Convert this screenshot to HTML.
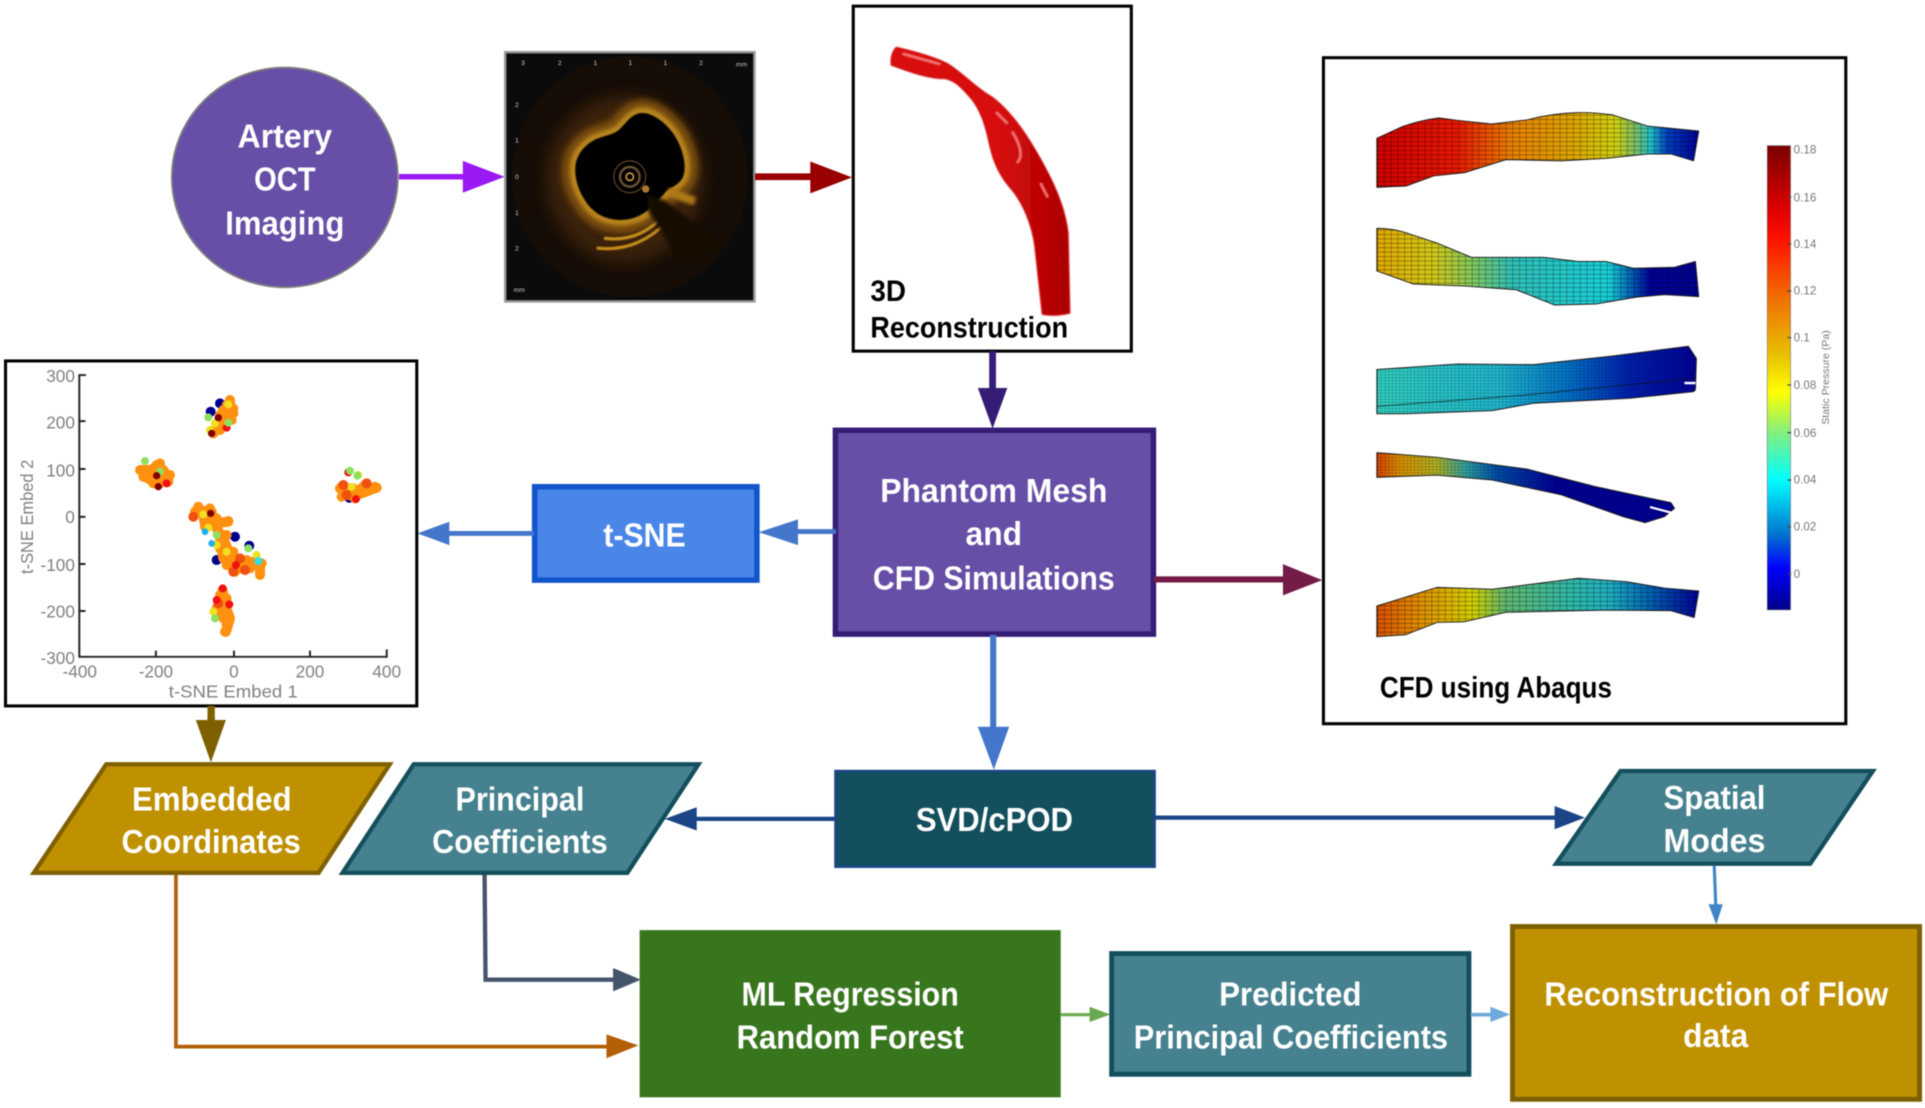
<!DOCTYPE html>
<html><head><meta charset="utf-8"><style>
html,body{margin:0;padding:0;background:#fff}
svg{display:block;filter:blur(.45px)}
text{font-family:"Liberation Sans",Arial,sans-serif}
.w{fill:#fff;font-weight:bold;font-size:27px;text-anchor:middle}
.k{fill:#000;font-weight:bold;font-size:24px}
.g{fill:#808080;font-size:14px}
.c{fill:#777;font-size:9.5px}
.o{fill:#ccc;font-size:5.5px;text-anchor:middle}
</style></head><body>
<svg width="1925" height="1108" viewBox="0 0 1568 902.5" preserveAspectRatio="none" xmlns="http://www.w3.org/2000/svg">
<defs>
<filter id="b1" x="-20%" y="-20%" width="140%" height="140%"><feGaussianBlur stdDeviation="0.5"/></filter>
<filter id="b2" x="-50%" y="-50%" width="200%" height="200%"><feGaussianBlur stdDeviation="1.5"/></filter>
<filter id="b3" x="-50%" y="-50%" width="200%" height="200%"><feGaussianBlur stdDeviation="2.5"/></filter>
<filter id="b4" x="-50%" y="-50%" width="200%" height="200%"><feGaussianBlur stdDeviation="6"/></filter>
<clipPath id="octc"><rect x="412.5" y="43.5" width="201" height="201"/></clipPath>
<pattern id="grid" patternUnits="userSpaceOnUse" width="5.5" height="3.6">
<path d="M0 0H5.5M0 0V3.6" stroke="#000" stroke-width=".7" stroke-opacity=".62" fill="none"/>
</pattern>
<pattern id="gridf" patternUnits="userSpaceOnUse" width="3" height="2.5">
<path d="M0 0H3M0 0V2.5" stroke="#000" stroke-width=".5" stroke-opacity=".5" fill="none"/>
</pattern>
<linearGradient id="g1" gradientUnits="userSpaceOnUse" x1="1121" y1="0" x2="1384" y2="0">
<stop offset="0" stop-color="#d00000"/><stop offset=".25" stop-color="#e81800"/><stop offset=".42" stop-color="#e88000"/><stop offset=".62" stop-color="#dca800"/><stop offset=".74" stop-color="#d0d010"/><stop offset=".8" stop-color="#80c060"/><stop offset=".85" stop-color="#20c0c8"/><stop offset=".9" stop-color="#0040c0"/><stop offset="1" stop-color="#000098"/>
</linearGradient>
<linearGradient id="g2" gradientUnits="userSpaceOnUse" x1="1121" y1="0" x2="1384" y2="0">
<stop offset="0" stop-color="#e0a800"/><stop offset=".18" stop-color="#d0c818"/><stop offset=".3" stop-color="#80c860"/><stop offset=".42" stop-color="#30c0b8"/><stop offset=".72" stop-color="#18d0d8"/><stop offset=".8" stop-color="#0050b0"/><stop offset=".85" stop-color="#000098"/><stop offset="1" stop-color="#000090"/>
</linearGradient>
<linearGradient id="g3" gradientUnits="userSpaceOnUse" x1="1121" y1="0" x2="1384" y2="0">
<stop offset="0" stop-color="#30d0c0"/><stop offset=".38" stop-color="#20b8d0"/><stop offset=".6" stop-color="#0070c8"/><stop offset=".78" stop-color="#0020b0"/><stop offset="1" stop-color="#000098"/>
</linearGradient>
<linearGradient id="g4" gradientUnits="userSpaceOnUse" x1="1121" y1="0" x2="1364" y2="0">
<stop offset="0" stop-color="#d84000"/><stop offset=".08" stop-color="#d89000"/><stop offset=".2" stop-color="#b0b020"/><stop offset=".3" stop-color="#30a0a0"/><stop offset=".4" stop-color="#0050a8"/><stop offset=".6" stop-color="#000098"/><stop offset="1" stop-color="#000098"/>
</linearGradient>
<linearGradient id="g5" gradientUnits="userSpaceOnUse" x1="1121" y1="0" x2="1384" y2="0">
<stop offset="0" stop-color="#d85000"/><stop offset=".12" stop-color="#e08800"/><stop offset=".24" stop-color="#d8b800"/><stop offset=".3" stop-color="#d0d000"/><stop offset=".4" stop-color="#60b870"/><stop offset=".6" stop-color="#30b8a8"/><stop offset=".72" stop-color="#20b0c0"/><stop offset=".85" stop-color="#0060b0"/><stop offset="1" stop-color="#000098"/>
</linearGradient>
<linearGradient id="cb" x1="0" y1="0" x2="0" y2="1">
<stop offset="0" stop-color="#7a0000"/><stop offset=".14" stop-color="#e00000"/><stop offset=".2" stop-color="#ff1000"/><stop offset=".33" stop-color="#f07000"/><stop offset=".45" stop-color="#e8c000"/><stop offset=".53" stop-color="#ffff00"/><stop offset=".62" stop-color="#80f080"/><stop offset=".72" stop-color="#00ffff"/><stop offset=".84" stop-color="#0070d0"/><stop offset=".91" stop-color="#0000ff"/><stop offset="1" stop-color="#000088"/>
</linearGradient>
<linearGradient id="art" x1="0" y1="0" x2="1" y2="0">
<stop offset="0" stop-color="#d81010"/><stop offset=".6" stop-color="#d80c0c"/><stop offset="1" stop-color="#a80000"/>
</linearGradient>
<path id="m1" d="M1121.5 112.7L1142.5 103Q1157 98 1172 96L1187 98 1215 101 1243.5 97.7Q1265 92 1285.6 91.7 1300 91.5 1313.6 93.6L1341.7 102.6 1383.7 106.7 1379.5 131 1361 125.4 1341.7 125.4 1308 129 1271.5 131 1226.7 130 1193 140.6 1167.8 143.3 1145.3 151.5 1121.5 152.6Z"/>
<path id="m2" d="M1121.5 186Q1132 186 1142.5 188.7L1170.6 198 1198.6 209.6 1257.5 209.6 1285.6 213 1308 213 1330.5 218.5 1364 217.7 1381 213 1383.7 241.6 1355.7 240 1333 242 1299.6 247.6 1266 248.4 1235 236 1193 233 1151 231.3 1121.5 220.7Z"/>
<path id="m3" d="M1121.5 301L1187.4 296.5 1249 297 1313.6 290 1375.3 282 1381.8 292 1381 317.6 1379.5 319 1327.7 324.4 1249 328.5 1215.5 334.5 1145 337 1121.5 337Z"/>
<path id="m4" d="M1121.5 368.7L1170.6 372.5 1243.5 382 1299.6 396.4 1361 409.4 1364 414 1355.7 420.8 1340 425.7 1322 420.8 1271.6 403 1215.5 391 1170.6 387 1121.5 388.8Z"/>
<path id="m5" d="M1121.5 493.6L1170.6 478.4 1215.5 480 1285.6 471 1325 473.8 1355.7 479 1383.7 481.4 1380 503 1361 497.4 1308 497 1226.7 498.7 1193 506.4 1170.6 507 1145 517 1121.5 518.6Z"/>
<path id="lum" d="M523.5 92C533 92 547 103 553 117 558 128 559 138 556 145 552 152 544 153 541 158L533 166C528 172 520 178 509 179 497 180 487 176 480 168 472 158 467 145 469 133 471 124 477 118 484 114 493 110 500 110 505 105 511 99 515 92 523.5 92Z"/>
</defs>
<rect width="1568" height="902.5" fill="#fff"/>

<!-- Artery OCT circle -->
<ellipse cx="232" cy="144.5" rx="92" ry="89.5" fill="#674ea7" stroke="#7f7f7f" stroke-width="1.5"/>
<text class="w" x="232" y="120" textLength="77" lengthAdjust="spacingAndGlyphs">Artery</text>
<text class="w" x="232" y="155" textLength="50" lengthAdjust="spacingAndGlyphs">OCT</text>
<text class="w" x="232" y="191" textLength="97" lengthAdjust="spacingAndGlyphs">Imaging</text>
<path d="M325 144H380" stroke="#9b19f5" stroke-width="4.5"/>
<path d="M377 131L411 144 377 157Z" fill="#9b19f5"/>

<!-- OCT image -->
<rect x="411.5" y="42.5" width="203" height="203" fill="#0b0b0b" stroke="#999" stroke-width="2"/>
<g clip-path="url(#octc)">
<ellipse cx="513" cy="144" rx="96" ry="98" fill="#170d07"/>
<ellipse cx="509" cy="146" rx="64" ry="68" fill="#4a2c08" opacity=".7" filter="url(#b4)"/>
<use href="#lum" fill="none" stroke="#7a4e0e" stroke-width="22" filter="url(#b3)"/>
<use href="#lum" fill="none" stroke="#b8841a" stroke-width="9" filter="url(#b2)"/>
<path d="M486 202Q518 206 543 181M492 194Q520 198 540 176" fill="none" stroke="#c8901f" stroke-width="2.5" filter="url(#b1)"/>
<use href="#lum" fill="#060606" filter="url(#b1)"/>
<path d="M527 158L541 163 590 200 555 214 528 172Z" fill="#120905" filter="url(#b2)"/>
<path d="M544 156L566 164" stroke="#b07a18" stroke-width="7" filter="url(#b2)"/>
<circle cx="513" cy="144" r="3" fill="none" stroke="#d0a040" stroke-width="1.3"/>
<circle cx="513" cy="144" r="8" fill="none" stroke="#6a5030" stroke-width="2"/>
<circle cx="513" cy="144" r="13" fill="none" stroke="#5a4428" stroke-width="1"/>
<circle cx="526" cy="154" r="3" fill="#a87a30"/>
</g>
<g>
<text class="o" x="426" y="53">3</text><text class="o" x="456" y="53">2</text><text class="o" x="485" y="53">1</text><text class="o" x="513.5" y="53">1</text><text class="o" x="542" y="53">1</text><text class="o" x="571" y="53">2</text><text class="o" x="604" y="54">mm</text>
<text class="o" x="421" y="87">2</text><text class="o" x="421" y="116">1</text><text class="o" x="421" y="146">0</text><text class="o" x="421" y="175">1</text><text class="o" x="421" y="204">2</text><text class="o" x="423" y="238">mm</text>
</g>

<path d="M615 144H665" stroke="#990000" stroke-width="5.5"/>
<path d="M660 131.5L694 144.5 660 157.5Z" fill="#990000"/>

<!-- 3D box -->
<rect x="695" y="5" width="226.5" height="281" fill="#fff" stroke="#000" stroke-width="2.5"/>
<path d="M730 38.6C745 42 760 46 772 52 785 60 795 72 808 79 825 92 838 112 850 134 860 152 868 172 870 190L871.4 255Q860 258 849 256L843 201C841 185 834 165 822 152 812 140 808 128 805 113 802 100 798 88 790 79 782 70 778 66 770 64 755 64 740 58 726 53Q725 44 730 38.6Z" fill="url(#art)" stroke="#d01010" stroke-width="1" stroke-linejoin="round" filter="url(#b1)"/>
<path d="M736 44L765 52M812 92L820 100M825 108Q835 125 829 132M848 150L853 160" fill="none" stroke="#f07070" stroke-width="2.5" stroke-linecap="round" filter="url(#b1)"/>
<text class="k" x="709" y="245" textLength="29" lengthAdjust="spacingAndGlyphs">3D</text>
<text class="k" x="709" y="275" textLength="161" lengthAdjust="spacingAndGlyphs">Reconstruction</text>

<path d="M808.5 286V320" stroke="#351c75" stroke-width="5.5"/>
<path d="M796.5 316H820.5L808.5 349Z" fill="#351c75"/>

<!-- CFD box -->
<rect x="1078" y="47" width="425.5" height="542.5" fill="#fff" stroke="#000" stroke-width="2.5"/>
<g stroke="#222" stroke-width=".8" stroke-linejoin="round">
<use href="#m1" fill="url(#g1)"/><use href="#m2" fill="url(#g2)"/><use href="#m3" fill="url(#g3)"/><use href="#m4" fill="url(#g4)"/><use href="#m5" fill="url(#g5)"/>
</g>
<use href="#m1" fill="url(#grid)"/><use href="#m2" fill="url(#grid)"/><use href="#m3" fill="url(#gridf)"/><use href="#m4" fill="url(#gridf)"/><use href="#m5" fill="url(#grid)"/>
<path d="M1121.5 331L1240 322 1381 308" stroke="#111" stroke-width=".9" fill="none" opacity=".6"/>
<path d="M1372 312H1381" stroke="#fff" stroke-width="2"/>
<path d="M1344 413L1361 417.5" stroke="#fff" stroke-width="1.8"/>
<rect x="1439.5" y="118.6" width="19" height="378.2" fill="url(#cb)" stroke="#777" stroke-width=".5"/>
<g stroke="#444" stroke-width="1">
<path d="M1456 160.5h3M1456 198.8h3M1456 237h3M1456 275h3M1456 313.6h3M1456 352.4h3M1456 391h3M1456 429h3M1456 467.5h3"/>
</g>
<text class="c" x="1461" y="125">0.18</text><text class="c" x="1461" y="164">0.16</text><text class="c" x="1461" y="202">0.14</text><text class="c" x="1461" y="240">0.12</text><text class="c" x="1461" y="278">0.1</text><text class="c" x="1461" y="317">0.08</text><text class="c" x="1461" y="356">0.06</text><text class="c" x="1461" y="394">0.04</text><text class="c" x="1461" y="432">0.02</text><text class="c" x="1461" y="471">0</text>
<text class="c" transform="translate(1490,346) rotate(-90)" style="font-size:8.5px" textLength="77" lengthAdjust="spacingAndGlyphs">Static Pressure (Pa)</text>
<text class="k" x="1124" y="568" textLength="189" lengthAdjust="spacingAndGlyphs">CFD using Abaqus</text>

<!-- Phantom box -->
<rect x="680.5" y="350.5" width="259" height="166" fill="#674ea7" stroke="#351c75" stroke-width="4.5"/>
<text class="w" x="809.5" y="409" textLength="185" lengthAdjust="spacingAndGlyphs">Phantom Mesh</text>
<text class="w" x="809.5" y="444" textLength="46" lengthAdjust="spacingAndGlyphs">and</text>
<text class="w" x="809.5" y="480" textLength="197" lengthAdjust="spacingAndGlyphs">CFD Simulations</text>

<path d="M681 433H645" stroke="#4477cc" stroke-width="4"/>
<path d="M650 423V444L618 433.5Z" fill="#4477cc"/>

<rect x="435.5" y="396.5" width="181" height="76" fill="#4a86e8" stroke="#1155cc" stroke-width="4.5"/>
<text class="w" x="525" y="445" textLength="67" lengthAdjust="spacingAndGlyphs">t-SNE</text>

<path d="M435 434.5H362" stroke="#4477cc" stroke-width="4"/>
<path d="M366 425V444L340 434.5Z" fill="#4477cc"/>

<path d="M940 472H1050" stroke="#741b47" stroke-width="5"/>
<path d="M1045 459.5L1077 472.5 1045 485Z" fill="#741b47"/>

<path d="M809 517V596" stroke="#4477cc" stroke-width="5"/>
<path d="M796.5 592H822L809.5 627Z" fill="#4477cc"/>

<!-- t-SNE plot -->
<rect x="4.5" y="294" width="335" height="281" fill="#fff" stroke="#000" stroke-width="2.5"/>
<path d="M70 305.5H64.6V535H315V529M64.6 343h5M64.6 382h5M64.6 421h5M64.6 459.4h5M64.6 497.7h5M127 535v-5M190.6 535v-5M252.5 535v-5" fill="none" stroke="#222" stroke-width="1.6"/>
<g text-anchor="end">
<text class="g" x="61" y="311">300</text><text class="g" x="61" y="349">200</text><text class="g" x="61" y="388">100</text><text class="g" x="61" y="426">0</text><text class="g" x="61" y="465">-100</text><text class="g" x="61" y="503">-200</text><text class="g" x="61" y="541">-300</text>
</g>
<g text-anchor="middle">
<text class="g" x="65" y="552">-400</text><text class="g" x="127" y="552">-200</text><text class="g" x="190.5" y="552">0</text><text class="g" x="252.5" y="552">200</text><text class="g" x="315" y="552">400</text>
<text class="g" x="190" y="568" textLength="105" lengthAdjust="spacingAndGlyphs">t-SNE Embed 1</text>
<text class="g" transform="translate(27,421) rotate(-90)" textLength="93" lengthAdjust="spacingAndGlyphs">t-SNE Embed 2</text>
</g>
<g transform="translate(0,289.2) scale(.2715)" fill="none" stroke-linecap="round" stroke-linejoin="round" stroke-width="30">
<path stroke="#000090" d="M650 615h0M748 572h0M632 170h0M660 145h0M705 545h0M1048 428h0"/>
<path stroke="#ff9010" d="M690 140L690 180 660 190 645 225M670 165L660 215M425 345L490 345 505 370 470 385 435 365 425 345M460 340L460 380M1020 400L1040 415 1070 420 1130 398M1100 385L1070 415M1030 400L1060 400M590 465L635 470 640 505 685 500M640 505L670 550 690 600 700 645M720 625L780 625 780 655M610 480L615 510M660 550L670 610M668 705L675 750 690 790 678 830M650 760L680 790"/>
<path stroke="#ff9010" d="M690 135h0M680 150h0M700 160h0M670 165h0M700 175h0M660 180h0M680 195h0M650 210h0M670 215h0M640 235h0M660 225h0M695 195h0M420 345h0M440 350h0M430 365h0M450 370h0M470 330h0M480 325h0M490 360h0M510 360h0M505 380h0M480 385h0M460 385h0M1025 395h0M1025 425h0M1045 420h0M1075 405h0M1100 390h0M1125 395h0M1095 410h0M1065 430h0M595 455h0M585 470h0M610 470h0M630 460h0M620 490h0M650 490h0M615 515h0M685 498h0M660 505h0M680 540h0M670 560h0M700 590h0M660 580h0M690 620h0M680 630h0M705 650h0M740 615h0M730 630h0M760 620h0M785 625h0M780 660h0M750 640h0M720 640h0M660 720h0M680 730h0M650 760h0M670 765h0M670 790h0M655 775h0M680 810h0M675 830h0"/>
<path stroke="#f05010" d="M580 485h0M720 610h0M700 650h0M735 645h0M1030 390h0M1100 385h0M655 745h0M1040 420h0"/>
<path stroke="#f01010" stroke-width="24" d="M668 700h0M688 748h0M708 630h0M500 385h0M1045 352h0M680 218h0M650 735h0M1068 432h0"/>
<path stroke="#f0e020" stroke-width="24" d="M645 205h0M630 225h0M685 148h0M1055 395h0M1075 360h0M610 478h0M625 518h0M650 570h0M680 590h0M770 600h0M640 770h0"/>
<path stroke="#90e060" stroke-width="24" d="M435 318h0M625 187h0M685 203h0M480 350h0M650 540h0M745 580h0M1050 347h0M1072 362h0M645 790h0"/>
<path stroke="#800000" stroke-width="22" d="M470 362h0M475 395h0M655 188h0M635 235h0M632 475h0"/>
<path stroke="#30e0e0" stroke-width="24" d="M775 618h0"/>
<path stroke="#20b0f0" stroke-width="20" d="M615 530h0M635 565h0"/>
</g>

<path d="M172 575V590" stroke="#7f6000" stroke-width="6"/>
<path d="M159.5 586.5H184L171.8 621Z" fill="#7f6000"/>

<!-- Embedded -->
<path d="M86.5 622.5H317.5L259.5 711H27.5Z" fill="#bf9000" stroke="#7f6000" stroke-width="3.5"/>
<text class="w" x="172.5" y="660" textLength="130" lengthAdjust="spacingAndGlyphs">Embedded</text>
<text class="w" x="172" y="695" textLength="146" lengthAdjust="spacingAndGlyphs">Coordinates</text>
<!-- Principal -->
<path d="M337 622.5H569L511 711H279Z" fill="#45818e" stroke="#134f5c" stroke-width="3.5"/>
<text class="w" x="423.5" y="660" textLength="105" lengthAdjust="spacingAndGlyphs">Principal</text>
<text class="w" x="423.5" y="695" textLength="143" lengthAdjust="spacingAndGlyphs">Coefficients</text>

<path d="M680 667H564" stroke="#1c4587" stroke-width="3.5"/>
<path d="M567.5 657.5V676.5L541.5 667Z" fill="#1c4587"/>

<!-- SVD -->
<rect x="680.5" y="628" width="260" height="78" fill="#134f5c" stroke="#1c4587" stroke-width="2"/>
<text class="w" x="810" y="677" textLength="128" lengthAdjust="spacingAndGlyphs">SVD/cPOD</text>
<path d="M941 666H1270" stroke="#1c4587" stroke-width="3.5"/>
<path d="M1266.3 656.5V675.5L1291 666Z" fill="#1c4587"/>

<!-- Spatial -->
<path d="M1320 628H1525.5L1474.5 703.5H1267.5Z" fill="#45818e" stroke="#134f5c" stroke-width="3.5"/>
<text class="w" x="1396.5" y="659" textLength="83" lengthAdjust="spacingAndGlyphs">Spatial</text>
<text class="w" x="1396.5" y="694" textLength="83" lengthAdjust="spacingAndGlyphs">Modes</text>
<path d="M1396.3 705L1397.6 738" stroke="#3d85c6" stroke-width="2.5"/>
<path d="M1391.7 736.5H1403.3L1398 753Z" fill="#3d85c6"/>

<!-- Connectors -->
<path d="M394.7 712.7L395.5 798H502" fill="none" stroke="#44546a" stroke-width="3.5"/>
<path d="M499.4 788.5V807.5L522 798Z" fill="#44546a"/>
<path d="M143.3 712.7V852.5H497" fill="none" stroke="#b45f06" stroke-width="3"/>
<path d="M494 842.5V862L520 851.5Z" fill="#b45f06"/>

<!-- ML -->
<rect x="521" y="757.6" width="343" height="136.2" fill="#38761d"/>
<text class="w" x="692.5" y="819" textLength="177" lengthAdjust="spacingAndGlyphs">ML Regression</text>
<text class="w" x="692.5" y="854" textLength="185" lengthAdjust="spacingAndGlyphs">Random Forest</text>

<path d="M864 826.5H890" stroke="#6aa84f" stroke-width="2.5"/>
<path d="M887.5 820V832.5L904.5 826.3Z" fill="#6aa84f"/>

<!-- Predicted -->
<rect x="905.5" y="776.7" width="291" height="98.3" fill="#45818e" stroke="#134f5c" stroke-width="4"/>
<text class="w" x="1051" y="819" textLength="116" lengthAdjust="spacingAndGlyphs">Predicted</text>
<text class="w" x="1051.5" y="854" textLength="256" lengthAdjust="spacingAndGlyphs">Principal Coefficients</text>

<path d="M1198 826.5H1216" stroke="#6fa8dc" stroke-width="3"/>
<path d="M1214 820V832.5L1230 826.3Z" fill="#6fa8dc"/>

<!-- Reconstruction -->
<rect x="1232" y="754.7" width="331.6" height="140.7" fill="#bf9000" stroke="#7f6000" stroke-width="4"/>
<text class="w" x="1398" y="819" textLength="280" lengthAdjust="spacingAndGlyphs">Reconstruction of Flow</text>
<text class="w" x="1397.5" y="853" textLength="53" lengthAdjust="spacingAndGlyphs">data</text>
</svg>
</body></html>
